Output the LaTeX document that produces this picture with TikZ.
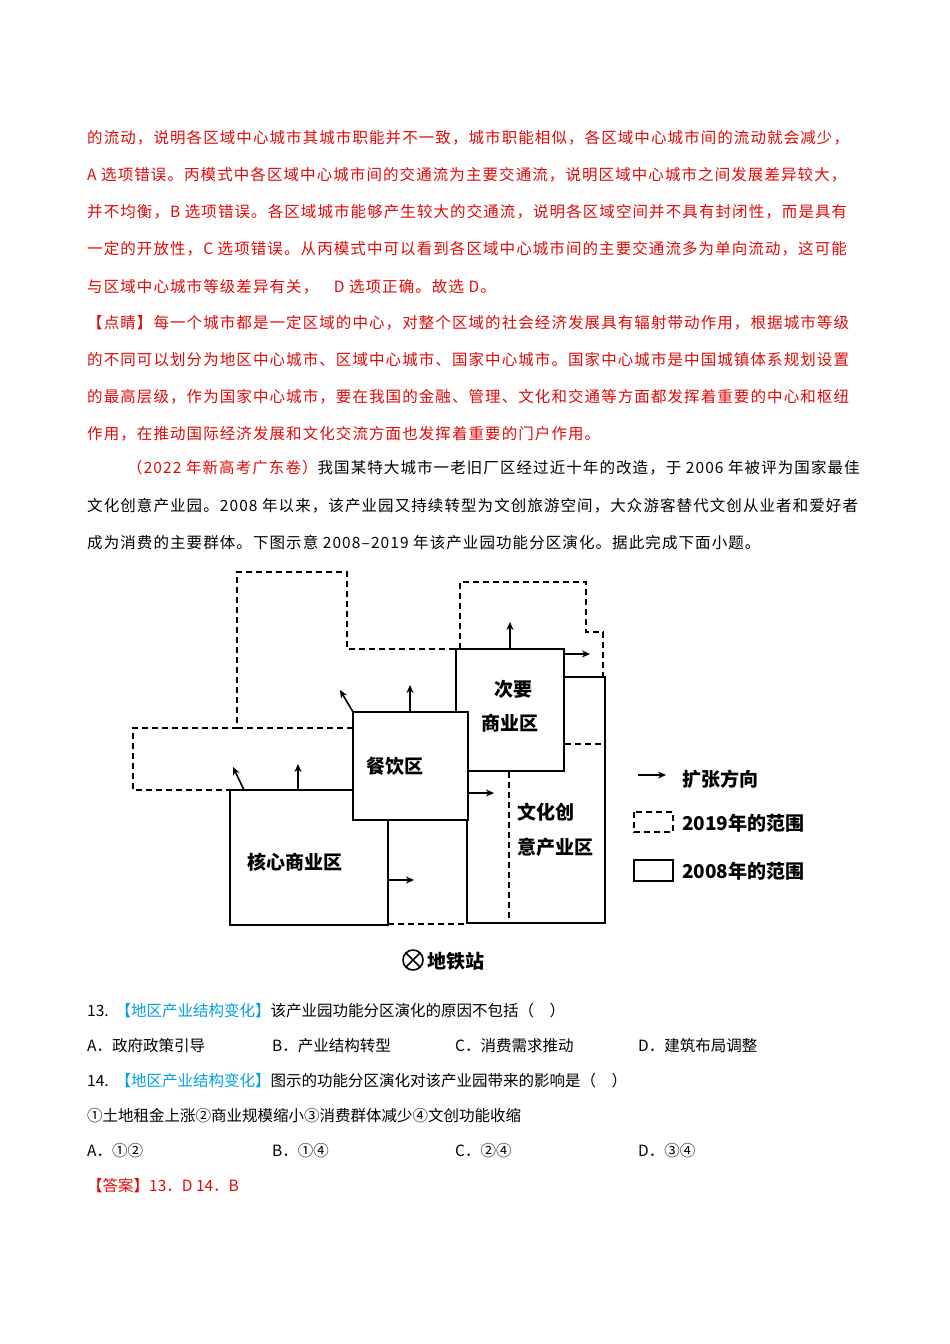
\documentclass[tikz,border=0pt]{standalone}
\usepackage{fontspec}
\setmainfont{Noto Sans CJK SC}
\usetikzlibrary{arrows.meta}
\definecolor{rd}{RGB}{225,10,10}
\definecolor{cy}{RGB}{0,160,230}
\begin{document}
\begin{tikzpicture}[x=1pt,y=-1pt,
  ln/.style={anchor=west,inner sep=0pt,font=\fontsize{15.5}{16}\selectfont},
  bl/.style={ln,font=\fontsize{15.5}{16}\selectfont\addfontfeatures{LetterSpace=7}},
  rl/.style={bl,text=rd},
  sol/.style={line width=1.6pt},
  dsh/.style={line width=1.6pt,dash pattern=on 6pt off 4pt},
  arr/.style={line width=1.6pt,-{Stealth[length=8pt,width=7pt]}},
  lab/.style={font=\bfseries\fontsize{19}{20}\selectfont,inner sep=0pt}]
\useasboundingbox[fill=white] (0,0) rectangle (950,1344);
% body text
\node[rl] (l1) at (87,138) {的流动，说明各区域中心城市其城市职能并不一致，城市职能相似，各区域中心城市间的流动就会减少，};
\node[rl] (l2) at (87,175) {A 选项错误。丙模式中各区域中心城市间的交通流为主要交通流，说明区域中心城市之间发展差异较大，};
\node[rl] (l3) at (87,212) {并不均衡，B 选项错误。各区域城市能够产生较大的交通流，说明各区域空间并不具有封闭性，而是具有};
\node[rl] (l4) at (87,249) {一定的开放性，C 选项错误。从丙模式中可以看到各区域中心城市间的主要交通流多为单向流动，这可能};
\node[rl] (l5) at (87,287) {与区域中心城市等级差异有关，\quad D 选项正确。故选 D。};
\node[rl] (l6) at (87,323) {【点睛】每一个城市都是一定区域的中心，对整个区域的社会经济发展具有辐射带动作用，根据城市等级};
\node[rl] (l7) at (87,360) {的不同可以划分为地区中心城市、区域中心城市、国家中心城市。国家中心城市是中国城镇体系规划设置};
\node[rl] (l8) at (87,397) {的最高层级，作为国家中心城市，要在我国的金融、管理、文化和交通等方面都发挥着重要的中心和枢纽};
\node[rl] (l9) at (87,434) {作用，在推动国际经济发展和文化交流方面也发挥着重要的门户作用。};
\node[bl] (l10) at (127,468) {\textcolor{rd}{（2022 年新高考广东卷）}我国某特大城市一老旧厂区经过近十年的改造，于 2006 年被评为国家最佳};
\node[bl] (l11) at (87,506) {文化创意产业园。2008 年以来，该产业园又持续转型为文创旅游空间，大众游客替代文创从业者和爱好者};
\node[bl] (l12) at (87,543) {成为消费的主要群体。下图示意 2008--2019 年该产业园功能分区演化。据此完成下面小题。};
% dashed 2019
\draw[dsh] (455,649) -- (347,649) -- (347,572) -- (237,572) -- (237,728) -- (133,728) -- (133,790) -- (230,790);
\draw[dsh] (237,728) -- (353,728);
\draw[dsh] (460,649) -- (460,582) -- (586,582) -- (586,632) -- (603,632) -- (603,677);
\draw[dsh] (565,744) -- (605,744);
\draw[dsh] (509,772) -- (509,923);
\draw[dsh] (388,924) -- (467,924);
% solid 2008
\draw[sol] (230,790) rectangle (388,925);
\draw[sol] (564,677) -- (605,677) -- (605,923) -- (467,923) -- (467,820);
\draw[sol,fill=white] (456,649) rectangle (564,771);
\draw[sol,fill=white] (353,712) rectangle (468,820);
% arrows
\coordinate (a1) at (298,790); \coordinate (b1) at (298,764);
\coordinate (a2) at (244,790); \coordinate (b2) at (233,767);
\coordinate (a3) at (410,712); \coordinate (b3) at (410,685);
\coordinate (a4) at (353,712); \coordinate (b4) at (340,690);
\coordinate (a5) at (510,649); \coordinate (b5) at (510,622);
\coordinate (a6) at (564,654); \coordinate (b6) at (590,654);
\coordinate (a7) at (468,793); \coordinate (b7) at (494,793);
\coordinate (a8) at (388,880); \coordinate (b8) at (414,880);
\foreach \i in {1,...,8} \draw[arr] (a\i) -- (b\i);
% labels
\node[lab] (t1) at (513,689) {次要};
\node[lab] (t2) at (510,723) {商业区};
\node[lab] (t3) at (395,766) {餐饮区};
\node[lab] (t4) at (295,862) {核心商业区};
\node[lab,anchor=west] (t5) at (517,812) {文化创};
\node[lab,anchor=west] (t6) at (517,847) {意产业区};
\node[lab] (t7) at (456,961) {地铁站};
\node[draw,circle,line width=1.6pt,minimum size=20pt,inner sep=0pt] (m) at (413,960) {};
\draw[line width=1.6pt] (m.north west) -- (m.south east) (m.north east) -- (m.south west);
% legend
\coordinate (g1) at (638,775); \coordinate (g2) at (666,775);
\draw[arr] (g1) -- (g2);
\node[lab,anchor=west] (k1) at (682,779) {扩张方向};
\draw[dsh] (634,812) rectangle (673,832);
\node[lab,anchor=west] (k2) at (682,823) {2019年的范围};
\draw[sol] (634,860) rectangle (673,881);
\node[lab,anchor=west] (k3) at (682,871) {2008年的范围};
% questions
\node[ln] (q1) at (87,1011) {13.\ \ \textcolor{cy}{【地区产业结构变化】}该产业园功能分区演化的原因不包括（\quad ）};
\node[ln] (oa) at (87,1046) {A．政府政策引导};
\node[ln] (ob) at (272,1046) {B．产业结构转型};
\node[ln] (oc) at (455,1046) {C．消费需求推动};
\node[ln] (od) at (638,1046) {D．建筑布局调整};
\node[ln] (q2) at (87,1081) {14.\ \ \textcolor{cy}{【地区产业结构变化】}图示的功能分区演化对该产业园带来的影响是（\quad ）};
\node[ln] (q3) at (87,1116) {①土地租金上涨②商业规模缩小③消费群体减少④文创功能收缩};
\node[ln] (pa) at (87,1151) {A．①②};
\node[ln] (pb) at (272,1151) {B．①④};
\node[ln] (pc) at (455,1151) {C．②④};
\node[ln] (pd) at (638,1151) {D．③④};
\node[ln,text=rd] (ans) at (87,1186) {【答案】13．D 14．B};
\end{tikzpicture}
\end{document}
